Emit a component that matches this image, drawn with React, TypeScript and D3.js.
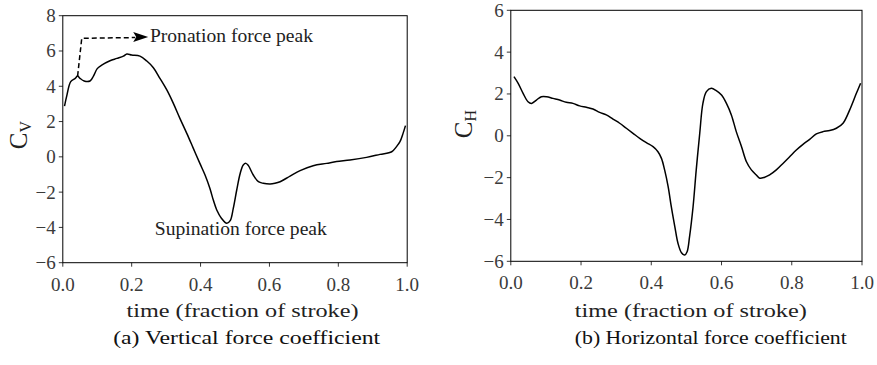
import React from "react";
import * as d3 from "d3";

const cvX = [0.005,0.012,0.023,0.036,0.043,0.05,0.062,0.079,0.089,0.10,0.113,0.137,0.157,0.176,0.186,0.2,0.224,0.244,0.263,0.282,0.302,0.321,0.34,0.36,0.379,0.398,0.413,0.427,0.437,0.447,0.461,0.476,0.486,0.495,0.505,0.515,0.524,0.532,0.539,0.553,0.568,0.582,0.602,0.616,0.631,0.66,0.689,0.727,0.766,0.795,0.834,0.882,0.921,0.955,0.969,0.979,0.988,0.995];
const cvY = [2.88,3.5,4.26,4.45,4.58,4.45,4.3,4.3,4.58,5.0,5.2,5.45,5.58,5.71,5.83,5.77,5.71,5.43,5.05,4.45,3.79,3.03,2.18,1.33,0.48,-0.37,-1.03,-1.78,-2.45,-3.01,-3.49,-3.77,-3.62,-2.92,-1.88,-0.94,-0.46,-0.37,-0.5,-1.03,-1.41,-1.5,-1.54,-1.5,-1.41,-1.09,-0.78,-0.5,-0.37,-0.27,-0.18,-0.03,0.14,0.29,0.58,0.86,1.33,1.77];

const chX = [0.009,0.021,0.035,0.049,0.059,0.073,0.087,0.102,0.12,0.139,0.158,0.177,0.196,0.215,0.234,0.253,0.272,0.291,0.31,0.329,0.348,0.367,0.386,0.405,0.419,0.429,0.438,0.448,0.457,0.467,0.476,0.486,0.495,0.502,0.509,0.519,0.528,0.538,0.547,0.557,0.571,0.585,0.6,0.614,0.628,0.642,0.657,0.671,0.685,0.699,0.709,0.723,0.737,0.756,0.775,0.794,0.813,0.832,0.851,0.87,0.889,0.908,0.927,0.946,0.965,0.984,0.996];
const chY = [2.83,2.51,2.03,1.63,1.55,1.71,1.87,1.87,1.79,1.71,1.6,1.55,1.43,1.36,1.28,1.12,1.0,0.8,0.6,0.36,0.12,-0.12,-0.33,-0.52,-0.76,-1.08,-1.63,-2.43,-3.39,-4.34,-5.14,-5.59,-5.7,-5.54,-4.82,-3.39,-1.63,0.12,1.55,2.11,2.27,2.16,1.95,1.55,1.0,0.2,-0.52,-1.24,-1.63,-1.87,-2.03,-1.98,-1.87,-1.63,-1.32,-1.0,-0.68,-0.41,-0.17,0.09,0.2,0.25,0.36,0.6,1.24,2.03,2.51];

const xTicks = [0, 0.2, 0.4, 0.6, 0.8, 1.0];
const cvTicks = [-6, -4, -2, 0, 2, 4, 6, 8];
const chTicks = [-6, -4, -2, 0, 2, 4, 6];

// annotation path (data coords): from pronation point, up, then right to arrow tip
const arrowX = [0.043, 0.055, 0.248];
const arrowY = [4.58, 6.72, 6.79];
const pronationLabel = "Pronation force peak";
const supinationLabel = "Supination force peak";
const xLabel = "time (fraction of stroke)";
const captionA = "(a) Vertical force coefficient";
const captionB = "(b) Horizontal force coefficient";

const FONT = "'Liberation Serif', 'Times New Roman', serif";
const fmtNum = (v: number) => (v < 0 ? "\u2212" + String(-v) : String(v));

function Panel(props: {
  xs: number[]; ys: number[]; yTicks: number[]; yDomain: [number, number];
  x0: number; x1: number; yTop: number; yBot: number;
  sub: string; ylabX: number; ylabY: number;
  xlabCx: number; capCx: number; caption: string; capLen: number;
  children?: (x: any, y: any) => React.ReactNode;
}) {
  const { xs, ys, yTicks, yDomain, x0, x1, yTop, yBot } = props;
  const x = d3.scaleLinear().domain([0, 1]).range([x0, x1]);
  const y = d3.scaleLinear().domain(yDomain).range([yBot, yTop]);
  const pts: [number, number][] = xs.map((v, i) => [v, ys[i]]);
  const line = d3.line<[number, number]>().x(d => x(d[0])).y(d => y(d[1])).curve(d3.curveCatmullRom.alpha(0.5));
  return (
    <g>
      <path d={line(pts) || ""} fill="none" stroke="#000" strokeWidth={1.5} />
      <rect x={x0} y={yTop} width={x1 - x0} height={yBot - yTop} fill="none" stroke="#000" strokeWidth={1} />
      {xTicks.map(t => (
        <g key={"x" + t}>
          <line x1={x(t)} x2={x(t)} y1={yBot} y2={yBot + 4} stroke="#000" strokeWidth={0.8} />
          <text x={x(t)} y={yBot + 28} textAnchor="middle" fontSize={19} fill="#3a3a3a" fontFamily={FONT}>{t.toFixed(1)}</text>
        </g>
      ))}
      {yTicks.map(t => (
        <g key={"y" + t}>
          <line x1={x0 - 4} x2={x0} y1={y(t)} y2={y(t)} stroke="#000" strokeWidth={0.8} />
          <text x={x0 - 7} y={y(t) + 6.5} textAnchor="end" fontSize={19} fill="#3a3a3a" fontFamily={FONT}>{fmtNum(t)}</text>
        </g>
      ))}
      <text transform={`translate(${props.ylabX},${props.ylabY}) rotate(-90)`} textAnchor="middle" fontSize={25} fill="#222" fontFamily={FONT}>
        C<tspan fontSize={16} dy={4}>{props.sub}</tspan>
      </text>
      <text x={props.xlabCx} y={317} textAnchor="middle" fontSize={19} fill="#222" fontFamily={FONT} textLength={232} lengthAdjust="spacingAndGlyphs">{xLabel}</text>
      <text x={props.capCx} y={344} textAnchor="middle" fontSize={19} fill="#111" fontFamily={FONT} textLength={props.capLen} lengthAdjust="spacingAndGlyphs">{props.caption}</text>
      {props.children ? props.children(x, y) : null}
    </g>
  );
}

export default function App() {
  return (
    <svg width={877} height={365} style={{ position: "absolute", left: 0, top: 0, background: "#fff" }}>
      <rect width={877} height={365} fill="#fff" />
      <Panel xs={cvX} ys={cvY} yTicks={cvTicks} yDomain={[-6, 8]} x0={62.8} x1={407.2} yTop={15.7} yBot={262.7}
        sub="V" ylabX={27} ylabY={135} xlabCx={242.5} capCx={246.7} caption={captionA} capLen={267}>
        {(x, y) => {
          const ax = arrowX.map(v => x(v));
          const ay = arrowY.map(v => y(v));
          const tipX = ax[2], tipY = ay[2];
          const headLen = 15, headHalf = 5;
          const baseX = tipX - headLen;
          return (
            <g>
              <path d={`M${ax[0]},${ay[0]} L${ax[1]},${ay[1]} L${baseX + 2},${tipY + 0.5}`} fill="none" stroke="#000" strokeWidth={1.5} strokeDasharray="5,3" />
              <path d={`M${tipX},${tipY} L${baseX},${tipY - headHalf} L${baseX + 3},${tipY} L${baseX},${tipY + headHalf} Z`} fill="#000" />
              <text x={x(0.253)} y={ay[2] + 5} fontSize={18} fill="#222" fontFamily={FONT} textLength={163} lengthAdjust="spacingAndGlyphs">{pronationLabel}</text>
              <text x={x(0.517)} y={y(-4.15) + 5} textAnchor="middle" fontSize={18} fill="#222" fontFamily={FONT} textLength={172} lengthAdjust="spacingAndGlyphs">{supinationLabel}</text>
            </g>
          );
        }}
      </Panel>
      <Panel xs={chX} ys={chY} yTicks={chTicks} yDomain={[-6, 6]} x0={510.8} x1={862} yTop={10.3} yBot={261.3}
        sub="H" ylabX={472} ylabY={124} xlabCx={690.8} capCx={710.8} caption={captionB} capLen={272} />
    </svg>
  );
}
